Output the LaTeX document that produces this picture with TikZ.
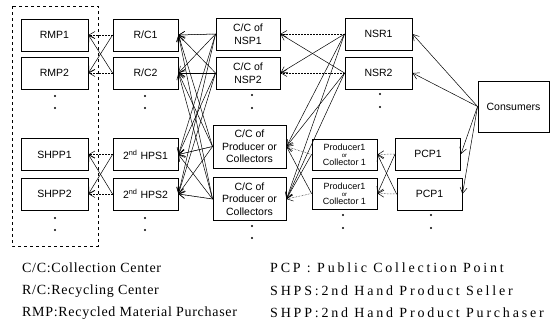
\documentclass[tikz,border=0pt]{standalone}
\usepackage{fontspec}
\setmainfont{Liberation Serif}
\setsansfont{Liberation Sans}
\newfontfamily\legendfont[LetterSpace=5]{Liberation Serif}
\newfontfamily\legendwidefont[LetterSpace=20]{Liberation Serif}
\usetikzlibrary{arrows.meta}
\tikzstyle{box}=[rectangle,draw,line width=0.9pt,minimum width=67pt,minimum height=32pt,inner sep=1pt,align=center,font=\sffamily\fontsize{10.5}{12.5}\selectfont]
\tikzstyle{midbox}=[box,minimum width=65pt]
\tikzstyle{ccbox}=[box,minimum width=73pt,minimum height=43pt]
\tikzstyle{prodbox}=[box,minimum width=65pt,minimum height=31pt,font=\sffamily\fontsize{9}{9}\selectfont]
\tikzstyle{consbox}=[box,minimum width=71pt,minimum height=51pt]
\tikzstyle{edge}=[draw,line width=0.5pt,-{Straight Barb[length=6pt,width=7pt]}]
\tikzstyle{flatedge}=[edge,densely dotted]
\tikzstyle{legend}=[anchor=west,inner sep=0pt,font=\fontsize{14}{16}\selectfont]

\begin{document}
\begin{tikzpicture}[x=1pt,y=-1pt]
\useasboundingbox (0,0) rectangle (557,327);

% Purchasers
\draw[dashed,line width=0.9pt] (12,6) rectangle (98,246);
\foreach \pos/\name/\label in {{(54.5,35)/rmp1/RMP1},{(54.5,73)/rmp2/RMP2},{(54.5,154.5)/shpp1/SHPP1},{(54.5,194)/shpp2/SHPP2}}
    \node[box] (\name) at \pos {\label};

% Recycling centers and sellers
\foreach \pos/\name/\label in {{(145.5,35)/rc1/{R/C1}},{(145.5,73)/rc2/{R/C2}},{(145.5,154.5)/hps1/{2\textsuperscript{nd} HPS1}},{(145.5,194)/hps2/{2\textsuperscript{nd} HPS2}}}
    \node[midbox] (\name) at \pos {\label};

% Collection centers
\foreach \pos/\name/\label in {{(248,34)/nsp1/{C/C of\\NSP1}},{(248,73)/nsp2/{C/C of\\NSP2}}}
    \node[box,minimum width=64pt] (\name) at \pos {\label};
\foreach \pos/\name in {{(249.5,146.5)/ccp1},{(249.5,199)/ccp2}}
    \node[ccbox] (\name) at \pos {C/C of\\Producer or\\Collectors};

% Sellers, producers, collection points
\foreach \pos/\name/\label in {{(378.5,34)/nsr1/NSR1},{(378.5,73)/nsr2/NSR2}}
    \node[box] (\name) at \pos {\label};
\foreach \pos/\name in {{(344.5,154.5)/pc1},{(344.5,193.5)/pc2}}
    \node[prodbox] (\name) at \pos {Producer1\\[-1.5pt]{\fontsize{6}{6}\selectfont or}\\[-1.5pt]Collector 1};
\foreach \pos/\name in {{(428,154)/pcp1},{(429.5,194)/pcp2}}
    \node[midbox] (\name) at \pos {PCP1};
\node[consbox] (cons) at (513.5,106.5) {Consumers};

% dots
\foreach \x/\y in {55/96,55/108,55/218,55/230,145/96,145/108,145/218,145/230,252/95,252/108,252/226,252/238,380/94,380/107,343/215,343/228,431/215,431/228}
    \fill (\x,\y) circle (1.2pt);

% Connect with edges
\foreach \source/ \dest in {rc1/rmp1,rc2/rmp2,hps1/shpp1,hps2/shpp2,nsp1/rc1,nsp2/rc2,ccp1/hps1,ccp2/hps2,nsr1/nsp1,nsr2/nsp2,pc1/ccp1,pc2/ccp2,pcp1/pc1,pcp2/pc2}
    \path[flatedge] (\source.west) -- (\dest.east);
\foreach \source/ \dest in {rc1/rmp2,rc2/rmp1,hps1/shpp2,hps2/shpp1,pc1/ccp2,pc2/ccp1,pcp1/pc2,pcp2/pc1}
    \path[edge] (\source.west) -- (\dest.east);
\foreach \source in {nsp1,nsp2,ccp1,ccp2}
    \foreach \dest in {rc1,rc2,hps1,hps2}
        \path[edge] (\source.west) -- (\dest.east);
\foreach \source in {nsr1,nsr2}
    \foreach \dest in {ccp1,ccp2}
        \path[edge] (\source.west) -- (\dest.east);
\path[edge] (nsr1.west) -- (nsp2.east);
\path[edge] (nsr2.west) -- (nsp1.east);
\foreach \dest in {nsr1,nsr2,pcp1,pcp2}
    \path[edge] (cons.west) -- (\dest.east);

% Legend
\node[legend] (lcc) at (22,268) {\legendfont C/C:Collection Center};
\node[legend] (lrc) at (22,291) {\legendfont R/C:Recycling Center};
\node[legend] (lrmp) at (22,313) {\legendfont RMP:Recycled Material Purchaser};
\node[legend] (lpcp) at (270,268) {\legendwidefont PCP : Public Collection Point};
\node[legend] (lshps) at (270,291) {\legendwidefont SHPS:2nd Hand Product Seller};
\node[legend] (lshpp) at (270,313) {\legendwidefont SHPP:2nd Hand Product Purchaser};

\end{tikzpicture}
\end{document}
